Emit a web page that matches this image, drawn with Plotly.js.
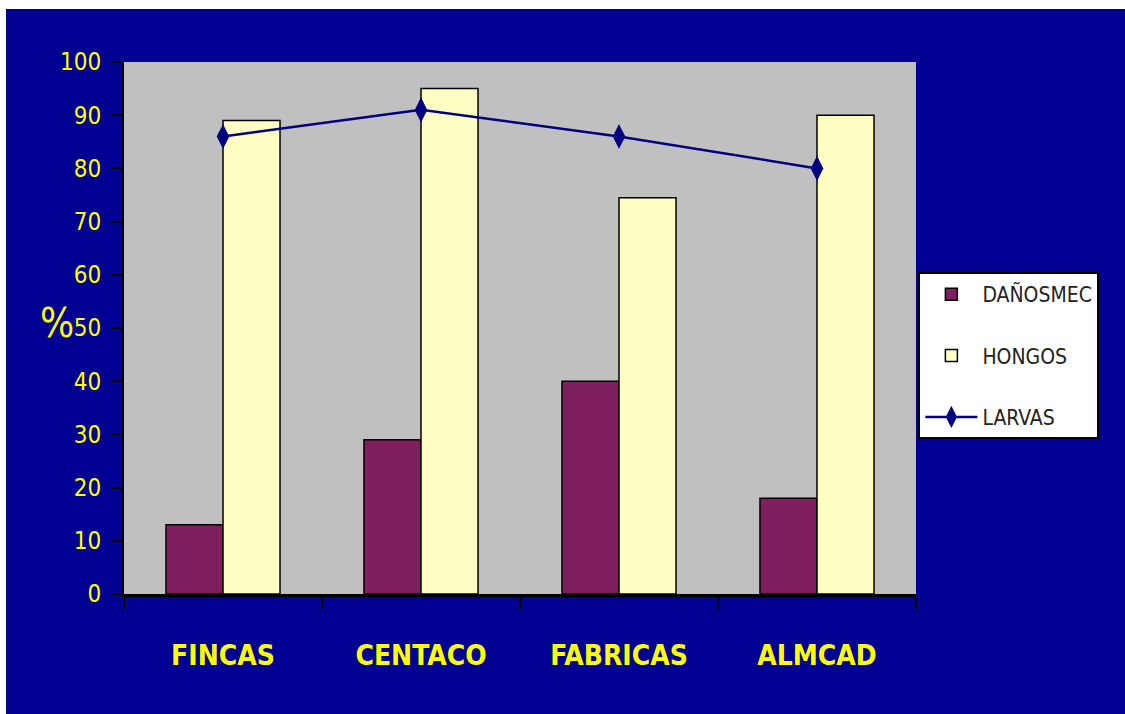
<!DOCTYPE html>
<html>
<head>
<meta charset="utf-8">
<script src="https://cdn.plot.ly/plotly-3.0.1.min.js"></script>
<style>
  html, body { margin: 0; padding: 0; background: #ffffff; }
  #chart { position: absolute; left: 6px; top: 9px; width: 1119px; height: 705px; }
</style>
</head>
<body>
<div id="chart"></div>
<script>
// Sites surveyed
const categories = ['FINCAS', 'CENTACO', 'FABRICAS', 'ALMCAD'];
// Percentages per damage type
const danosMec = [13, 29, 40, 18];
const hongos = [89, 95, 74.5, 90];
const larvas = [86, 91, 86, 80];
const yTicks = [0, 10, 20, 30, 40, 50, 60, 70, 80, 90, 100];

const navy = '#000092';
const yellow = '#FFFF00';
const narrow = '"DejaVu Sans Condensed", "Liberation Sans Narrow", Arial, sans-serif';

const traces = [
  {
    type: 'bar', name: 'DAÑOSMEC', x: categories, y: danosMec,
    marker: { color: '#7F1F5F', line: { color: '#000000', width: 1.5 } },
    legendgroup: 'a'
  },
  {
    type: 'bar', name: 'HONGOS', x: categories, y: hongos,
    marker: { color: '#FFFFC4', line: { color: '#000000', width: 1.5 } },
    legendgroup: 'b'
  },
  {
    type: 'scatter', mode: 'lines+markers', name: 'LARVAS', x: categories, y: larvas,
    line: { color: '#000080', width: 2.5 },
    marker: { symbol: 'diamond-tall', size: 18, color: '#000080' },
    legendgroup: 'c'
  }
];

const layout = {
  width: 1119, height: 705,
  margin: { l: 118, r: 209, t: 53, b: 120 },
  paper_bgcolor: navy,
  plot_bgcolor: '#C0C0C0',
  barmode: 'group',
  bargap: 0.424,
  bargroupgap: 0,
  showlegend: true,
  legend: {
    x: 1.003, xanchor: 'left', y: 0.605, yanchor: 'top',
    bgcolor: '#ffffff', bordercolor: '#000000', borderwidth: 2,
    font: { family: narrow, size: 21, color: '#222222' },
    traceorder: 'grouped', tracegroupgap: 31,
    itemwidth: 52
  },
  xaxis: {
    type: 'category',
    showline: true, linecolor: '#000000', linewidth: 3,
    ticks: 'outside', tickson: 'boundaries', ticklen: 12, tickwidth: 1.5, tickcolor: '#000000',
    ticklabelstandoff: 34,
    tickfont: { family: narrow, size: 28, color: yellow, weight: 'bold' },
    showgrid: false, zeroline: false
  },
  yaxis: {
    range: [0, 100], tickvals: yTicks, ticktext: yTicks.map(String),
    showline: true, linecolor: '#000000', linewidth: 2,
    ticks: 'outside', ticklen: 10, tickwidth: 2, tickcolor: '#000000',
    ticklabelstandoff: 6,
    tickfont: { family: narrow, size: 24, color: yellow },
    showgrid: false, zeroline: false
  },
  annotations: [
    {
      text: '%', xref: 'paper', yref: 'y', x: -0.108, y: 51,
      xanchor: 'left', yanchor: 'middle', showarrow: false,
      font: { family: narrow, size: 40, color: yellow }
    }
  ]
};

Plotly.newPlot('chart', traces, layout, { displayModeBar: false, staticPlot: true });
</script>
</body>
</html>
